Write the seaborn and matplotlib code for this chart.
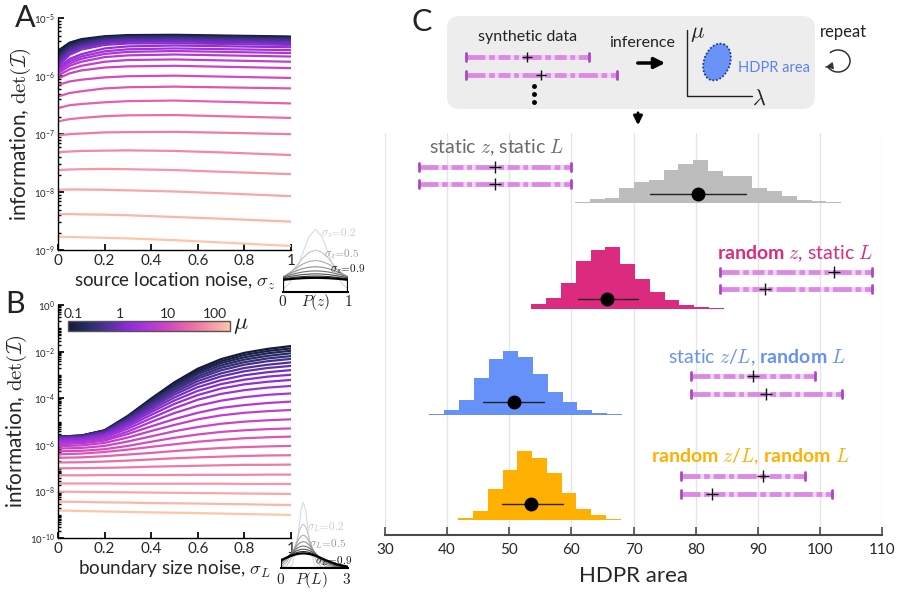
import numpy as np
import pandas as pd
import matplotlib
matplotlib.use("Agg")
import matplotlib.pyplot as plt
import matplotlib.ticker as mticker
import seaborn as sns
from matplotlib.colors import LinearSegmentedColormap, LogNorm
from matplotlib.patches import FancyBboxPatch, Ellipse, Arc

sns.set_theme(style="white")
plt.rcParams["font.family"] = ["Lato", "DejaVu Sans"]
plt.rcParams["mathtext.fontset"] = "cm"
# used only by texts with math_fontfamily="custom" (panel C labels)
plt.rcParams["mathtext.rm"] = "Lato"
plt.rcParams["mathtext.bf"] = "Lato:bold"
plt.rcParams["mathtext.it"] = "cmmi10"

# === DATA ===
mu = [0.1, 0.13, 0.17, 0.23, 0.3, 0.4, 0.52, 0.69, 0.91, 1.2, 1.6, 2.1, 2.8,
      3.6, 4.8, 6.3, 8.3, 11, 14.5, 19, 25, 33, 44, 58, 76, 100]

# panel A: log10 det(I) vs sigma_z, one row per mu
sig_z = [0, 0.05, 0.1, 0.2, 0.3, 0.5, 0.7, 1.0]
log_info_z = [
    [-5.56, -5.42, -5.36, -5.31, -5.29, -5.285, -5.297, -5.315],
    [-5.59, -5.44, -5.38, -5.32, -5.30, -5.295, -5.307, -5.325],
    [-5.62, -5.46, -5.39, -5.33, -5.31, -5.305, -5.317, -5.335],
    [-5.65, -5.48, -5.41, -5.34, -5.32, -5.315, -5.327, -5.345],
    [-5.68, -5.505, -5.43, -5.36, -5.335, -5.33, -5.342, -5.36],
    [-5.71, -5.53, -5.45, -5.37, -5.35, -5.345, -5.357, -5.375],
    [-5.74, -5.55, -5.47, -5.39, -5.365, -5.36, -5.372, -5.39],
    [-5.77, -5.575, -5.49, -5.41, -5.385, -5.38, -5.392, -5.41],
    [-5.80, -5.60, -5.51, -5.43, -5.405, -5.40, -5.412, -5.43],
    [-5.83, -5.63, -5.54, -5.46, -5.435, -5.43, -5.442, -5.46],
    [-5.86, -5.70, -5.62, -5.52, -5.485, -5.47, -5.482, -5.50],
    [-5.89, -5.74, -5.66, -5.57, -5.535, -5.52, -5.532, -5.55],
    [-5.92, -5.78, -5.70, -5.615, -5.58, -5.565, -5.579, -5.60],
    [-5.95, -5.82, -5.75, -5.67, -5.64, -5.625, -5.639, -5.66],
    [-5.99, -5.88, -5.82, -5.75, -5.72, -5.71, -5.726, -5.75],
    [-6.04, -5.95, -5.90, -5.85, -5.83, -5.82, -5.836, -5.86],
    [-6.15, -6.09, -6.06, -6.02, -6.00, -5.99, -6.006, -6.03],
    [-6.35, -6.29, -6.26, -6.21, -6.19, -6.18, -6.192, -6.21],
    [-6.55, -6.50, -6.48, -6.45, -6.43, -6.42, -6.44, -6.47],
    [-6.78, -6.74, -6.72, -6.69, -6.675, -6.67, -6.69, -6.72],
    [-7.02, -7.00, -6.99, -6.97, -6.965, -6.96, -6.975, -7.00],
    [-7.31, -7.30, -7.29, -7.285, -7.28, -7.29, -7.315, -7.36],
    [-7.62, -7.61, -7.605, -7.60, -7.605, -7.62, -7.65, -7.69],
    [-7.96, -7.955, -7.955, -7.96, -7.97, -7.99, -8.02, -8.07],
    [-8.38, -8.38, -8.385, -8.39, -8.40, -8.43, -8.46, -8.51],
    [-8.77, -8.775, -8.78, -8.79, -8.80, -8.83, -8.87, -8.93],
]

# panel B: log10 det(I) vs sigma_L
sig_L = [0, 0.1, 0.2, 0.3, 0.4, 0.5, 0.6, 0.7, 0.8, 0.9, 1.0]
log_info_L = [
    [-5.64, -5.60, -5.37, -4.75, -4.01, -3.31, -2.73, -2.32, -2.05, -1.88, -1.76],
    [-5.64, -5.60, -5.38, -4.77, -4.05, -3.37, -2.81, -2.41, -2.14, -1.97, -1.86],
    [-5.64, -5.60, -5.38, -4.79, -4.09, -3.43, -2.88, -2.49, -2.24, -2.07, -1.96],
    [-5.645, -5.61, -5.40, -4.82, -4.14, -3.50, -2.96, -2.59, -2.34, -2.18, -2.07],
    [-5.65, -5.62, -5.41, -4.85, -4.20, -3.57, -3.06, -2.69, -2.45, -2.29, -2.19],
    [-5.66, -5.63, -5.43, -4.89, -4.25, -3.65, -3.15, -2.80, -2.56, -2.41, -2.31],
    [-5.67, -5.64, -5.45, -4.93, -4.32, -3.74, -3.26, -2.93, -2.70, -2.56, -2.46],
    [-5.69, -5.66, -5.47, -4.98, -4.40, -3.84, -3.38, -3.06, -2.84, -2.70, -2.61],
    [-5.72, -5.69, -5.52, -5.05, -4.49, -3.96, -3.52, -3.22, -3.01, -2.88, -2.79],
    [-5.75, -5.72, -5.56, -5.12, -4.59, -4.09, -3.68, -3.39, -3.20, -3.07, -2.99],
    [-5.79, -5.76, -5.61, -5.20, -4.71, -4.24, -3.86, -3.58, -3.40, -3.29, -3.21],
    [-5.84, -5.82, -5.67, -5.30, -4.85, -4.42, -4.06, -3.81, -3.65, -3.54, -3.47],
    [-5.90, -5.88, -5.75, -5.42, -5.01, -4.63, -4.32, -4.10, -3.95, -3.85, -3.79],
    [-5.97, -5.93, -5.81, -5.53, -5.20, -4.89, -4.62, -4.41, -4.29, -4.20, -4.14],
    [-6.05, -6.02, -5.91, -5.68, -5.40, -5.14, -4.90, -4.73, -4.62, -4.55, -4.50],
    [-6.15, -6.13, -6.04, -5.85, -5.63, -5.41, -5.23, -5.09, -5.00, -4.94, -4.90],
    [-6.27, -6.25, -6.18, -6.04, -5.86, -5.69, -5.55, -5.44, -5.37, -5.32, -5.29],
    [-6.40, -6.37, -6.30, -6.20, -6.08, -5.97, -5.86, -5.78, -5.71, -5.67, -5.64],
    [-6.55, -6.53, -6.48, -6.41, -6.34, -6.26, -6.19, -6.13, -6.09, -6.06, -6.04],
    [-6.75, -6.74, -6.71, -6.67, -6.62, -6.57, -6.53, -6.50, -6.47, -6.45, -6.44],
    [-7.00, -6.99, -6.98, -6.96, -6.93, -6.91, -6.89, -6.87, -6.85, -6.85, -6.84],
    [-7.30, -7.30, -7.29, -7.29, -7.29, -7.285, -7.28, -7.28, -7.28, -7.27, -7.27],
    [-7.65, -7.65, -7.65, -7.66, -7.66, -7.66, -7.66, -7.66, -7.67, -7.67, -7.67],
    [-8.00, -8.01, -8.02, -8.03, -8.04, -8.05, -8.06, -8.07, -8.08, -8.09, -8.10],
    [-8.43, -8.44, -8.46, -8.47, -8.49, -8.50, -8.51, -8.53, -8.54, -8.56, -8.57],
    [-8.81, -8.83, -8.85, -8.87, -8.89, -8.905, -8.92, -8.94, -8.96, -8.98, -9.00],
]

# insets: noise distributions
inset_sig = [0.2, 0.3, 0.4, 0.5, 0.6, 0.7, 0.8, 0.9]
z_grid = [0, 0.1, 0.2, 0.3, 0.4, 0.5, 0.6, 0.7, 0.8, 0.9, 1.0]
p_z = [
    [0.088, 0.270, 0.648, 1.210, 1.761, 1.995, 1.761, 1.210, 0.648, 0.270, 0.088],
    [0.332, 0.547, 0.807, 1.065, 1.258, 1.330, 1.258, 1.065, 0.807, 0.547, 0.332],
    [0.456, 0.605, 0.753, 0.880, 0.966, 0.997, 0.966, 0.880, 0.753, 0.605, 0.456],
    [0.484, 0.579, 0.667, 0.737, 0.782, 0.798, 0.782, 0.737, 0.667, 0.579, 0.484],
    [0.470, 0.532, 0.587, 0.629, 0.656, 0.665, 0.656, 0.629, 0.587, 0.532, 0.470],
    [0.442, 0.484, 0.520, 0.547, 0.564, 0.570, 0.564, 0.547, 0.520, 0.484, 0.442],
    [0.410, 0.440, 0.465, 0.484, 0.495, 0.499, 0.495, 0.484, 0.465, 0.440, 0.410],
    [0.380, 0.401, 0.419, 0.432, 0.440, 0.443, 0.440, 0.432, 0.419, 0.401, 0.380],
]
L_grid = [0, 0.25, 0.5, 0.7, 0.8, 0.9, 1.0, 1.1, 1.2, 1.3, 1.5, 1.75, 2.0, 2.5, 3.0]
p_L = [
    [0.0, 0.002, 0.088, 0.648, 1.210, 1.761, 1.995, 1.761, 1.210, 0.648, 0.088, 0.002, 0.0, 0.0, 0.0],
    [0.005, 0.058, 0.332, 0.807, 1.065, 1.258, 1.330, 1.258, 1.065, 0.807, 0.332, 0.058, 0.005, 0.0, 0.0],
    [0.044, 0.172, 0.456, 0.753, 0.880, 0.966, 0.997, 0.966, 0.880, 0.753, 0.456, 0.172, 0.044, 0.001, 0.0],
    [0.108, 0.259, 0.484, 0.667, 0.737, 0.782, 0.798, 0.782, 0.737, 0.667, 0.484, 0.259, 0.108, 0.009, 0.0],
    [0.166, 0.304, 0.470, 0.587, 0.629, 0.656, 0.665, 0.656, 0.629, 0.587, 0.470, 0.304, 0.166, 0.029, 0.003],
    [0.205, 0.321, 0.442, 0.520, 0.547, 0.564, 0.570, 0.564, 0.547, 0.520, 0.442, 0.321, 0.205, 0.057, 0.010],
    [0.228, 0.322, 0.410, 0.465, 0.484, 0.495, 0.499, 0.495, 0.484, 0.465, 0.410, 0.322, 0.228, 0.086, 0.022],
    [0.239, 0.313, 0.380, 0.419, 0.432, 0.440, 0.443, 0.440, 0.432, 0.419, 0.380, 0.313, 0.239, 0.110, 0.038],
]
inset_grays = ["#dadada", "#c6c6c6", "#ababab", "#8f8f8f", "#717171", "#525252", "#2e2e2e", "#000000"]

# panel C: HDPR area histograms (percent of repeats per bin)
bin_w = 2.38
conditions = ["static z, static L", "random z, static L", "static z/L, random L", "random z/L, random L"]
hist_start = [58.2, 51.2, 32.4, 39.4]
hist_pct = [
    [0.1, 0.2, 1.3, 1.6, 4.7, 6.6, 7.3, 10.4, 12.3, 13.6, 10.1, 8.5, 8.5, 4.7, 3.8, 2.2, 1.1, 0.5, 0.3, 0.1],
    [0.1, 1.5, 3.4, 8.1, 15.3, 18.7, 19.5, 14.1, 9.5, 5.3, 2.8, 1.3, 0.5, 0.2],
    [0.1, 0.1, 0.3, 1.6, 4.7, 11.7, 17.7, 20.3, 18.4, 13.0, 7.3, 4.1, 1.6, 0.6, 0.2, 0.1],
    [0.1, 0.6, 2.8, 9.8, 15.8, 21.8, 19.6, 14.9, 8.5, 3.5, 1.6, 0.2, 0.1, 0.1],
]
hdpr_mean = [80.4, 65.8, 50.7, 53.5]
hdpr_lo = [72.7, 61.1, 45.8, 48.9]
hdpr_hi = [88.1, 70.8, 55.6, 58.6]
# synthetic data examples: (low, high, estimate) for two data sets
synth = [
    [(35.5, 59.9, 47.7), (35.5, 59.9, 47.7)],
    [(83.9, 108.4, 102.2), (83.9, 108.4, 91.2)],
    [(79.2, 99.2, 89.2), (79.2, 103.6, 91.4)],
    [(77.6, 97.6, 90.8), (77.6, 102.0, 82.7)],
]

# === STYLE / LAYOUT ===
W, H = 901, 597
cmap = LinearSegmentedColormap.from_list(
    "mu", ["#121a38", "#2b2d68", "#55309f", "#8d2dd8", "#b236d8", "#d247c0",
           "#ea68a8", "#f693a6", "#fec6a8"])
mu_norm = LogNorm(0.1, 100)
hist_colors = ["#bdbdbd", "#dc2a7e", "#6591f8", "#ffb000"]
label_colors = ["#6b6b6b", "#dc2a7e", "#6591f8", "#ffb000"]
labels_tex = [
    r"static $z$, static $L$",
    r"$\mathbf{random}$ $z$, static $L$",
    r"static $z/L$, $\mathbf{random}$ $L$",
    r"$\mathbf{random}$ $z/L$, $\mathbf{random}$ $L$",
]
row_base = [203, 309, 415, 520]          # px baseline of each histogram row
row_dot = [9, 10, 13, 16]                # px above baseline
row_label = [(497, 55), (795, 55), (757, 57), (750, 63)]
row_bars = [(36, 19), (37, 20), (39, 21), (44, 26)]
PPP = 3.16                               # px per percent

fig = plt.figure(figsize=(W / 100, H / 100), dpi=100)


def add_ax(x0, y0, x1, y1):
    return fig.add_axes([x0 / W, 1 - y1 / H, (x1 - x0) / W, (y1 - y0) / H])


def long_frame(xs, rows):
    recs = []
    for m, row in zip(mu, rows):
        for x, v in zip(xs, row):
            recs.append((x, 10.0 ** v, m))
    return pd.DataFrame(recs, columns=["sigma", "info", "mu"])


def style_info_axes(ax, xlabel):
    ax.set_yscale("log")
    ax.set_xlim(0, 1)
    sns.despine(ax=ax)
    for s in ["left", "bottom"]:
        ax.spines[s].set_color("black")
        ax.spines[s].set_linewidth(1.0)
    ax.set_xticks([0, 0.2, 0.4, 0.6, 0.8, 1])
    ax.set_xticklabels(["0", "0.2", "0.4", "0.6", "0.8", "1"])
    ax.tick_params(axis="x", which="both", direction="in", length=4, labelsize=11,
                   pad=3, color="black", bottom=True)
    ax.tick_params(axis="y", which="major", direction="in", length=4, labelsize=7,
                   pad=2, color="black", left=True)
    ax.tick_params(axis="y", which="minor", direction="in", length=2, color="black", left=True)
    ax.set_xlabel(xlabel, fontsize=13.5, labelpad=2)
    ax.set_ylabel(r"information, $\det(\mathcal{I})$", fontsize=15, labelpad=1)


# === A ===
axA = add_ax(58, 18.3, 291, 250)
sns.lineplot(data=long_frame(sig_z, log_info_z), x="sigma", y="info", hue="mu",
             palette=cmap, hue_norm=mu_norm, legend=False, lw=1.6, ax=axA)
style_info_axes(axA, r"source location noise, $\sigma_z$")
axA.set_ylim(1e-9, 1e-5)
axA.yaxis.set_major_locator(mticker.LogLocator(base=10, numticks=10))
axA.yaxis.set_minor_locator(mticker.LogLocator(base=10, subs=np.arange(2, 10), numticks=20))
axA.yaxis.set_minor_formatter(mticker.NullFormatter())

# === B ===
axB = add_ax(58, 305, 291, 538.3)
sns.lineplot(data=long_frame(sig_L, log_info_L), x="sigma", y="info", hue="mu",
             palette=cmap, hue_norm=mu_norm, legend=False, lw=1.6, ax=axB)
style_info_axes(axB, r"boundary size noise, $\sigma_L$")
axB.set_ylim(1e-10, 1e0)
axB.yaxis.set_major_locator(mticker.FixedLocator([10.0 ** k for k in range(-10, 1, 2)]))
axB.yaxis.set_minor_locator(mticker.LogLocator(base=10, subs=np.arange(1, 10), numticks=30))
axB.yaxis.set_minor_formatter(mticker.NullFormatter())

# colorbar for mu (bar runs a little past 0.1 and 100, as in the original)
cax = add_ax(68, 321, 230, 331)
sm = plt.cm.ScalarMappable(norm=LogNorm(0.078, 207), cmap=cmap)
cb = fig.colorbar(sm, cax=cax, orientation="horizontal")
cax.xaxis.set_ticks_position("top")
cb.set_ticks([0.1, 1, 10, 100])
cb.set_ticklabels(["0.1", "1", "10", "100"])
cax.tick_params(which="both", direction="in", labelsize=10, pad=1, length=2, color="#555")
cb.outline.set_edgecolor("#555")
cb.outline.set_linewidth(1.0)

# insets
axPz = add_ax(283, 226, 348, 291.7)
axPL = add_ax(281, 498.7, 348, 568)
for ax, grid, curves, xmax in [(axPz, z_grid, p_z, 1.0), (axPL, L_grid, p_L, 3.0)]:
    for s, vals, c in zip(inset_sig, curves, inset_grays):
        ax.plot([grid[0]] + grid + [grid[-1]], [0] + vals + [0], color=c,
                lw=1.6 if s == 0.9 else 0.8)
    ax.set_xlim(0, xmax)
    ax.set_ylim(0, 2.1)
    ax.set_xticks([])
    ax.set_yticks([])
    for s in ["top", "right", "left"]:
        ax.spines[s].set_visible(False)
    ax.spines["bottom"].set_color("black")
    ax.spines["bottom"].set_linewidth(1.5)
    ax.patch.set_alpha(0)

# === C ===
axC = add_ax(385, 133, 882, 535)
axC.set_xlim(30, 110)
axC.set_ylim(0, 1)
axC.set_xticks(range(30, 111, 10))
axC.set_yticks([])
axC.grid(axis="x", color="#e6e6e6", lw=1)
for s in ["top", "right", "left"]:
    axC.spines[s].set_visible(False)
axC.spines["bottom"].set_color("#4a4a4a")
axC.spines["bottom"].set_linewidth(1.5)
axC.tick_params(axis="x", direction="in", length=6, width=1.2, color="#4a4a4a",
                labelsize=11, pad=6, bottom=True)
axC.set_xlabel("HDPR area", fontsize=16, labelpad=6)


def synth_bar(ax, lo, hi, est, y, cap, mark_size=8):
    ax.plot([lo, hi], [y, y], color="#f0d2f3", lw=3.4, solid_capstyle="butt", zorder=3)
    ax.plot([lo, hi], [y, y], color="#db88e6", lw=3.4,
            ls=(0, (4, 0.8, 1.2, 0.8, 2.5, 0.8, 1.0, 0.8)),
            dash_capstyle="butt", zorder=3)
    for xe in (lo, hi):
        ax.plot([xe, xe], [y - cap, y + cap], color="#ad47c2", lw=2, zorder=4)
    ax.plot(est, y, marker="+", color="#111", ms=mark_size, mew=1, zorder=5)


for i in range(4):
    base = row_base[i]
    ax = add_ax(385, base - 80, 882, base)
    n = len(hist_pct[i])
    centers = [hist_start[i] + bin_w * (k + 0.5) for k in range(n)]
    sns.histplot(x=centers, weights=hist_pct[i], binwidth=bin_w,
                 binrange=(hist_start[i], hist_start[i] + bin_w * n),
                 element="step", fill=True, color=hist_colors[i], alpha=1,
                 linewidth=0, ax=ax)
    ax.set_xlim(30, 110)
    ax.set_ylim(0, 80 / PPP)
    ax.axis("off")
    yd = row_dot[i] / PPP
    ax.plot([hdpr_lo[i], hdpr_hi[i]], [yd, yd], color="#222", lw=1, zorder=6)
    ax.plot(hdpr_mean[i], yd, "o", color="black", ms=9, zorder=7)
    lx, ly = row_label[i]
    ax.text(30 + (lx - 385) / 6.2125, ly / PPP, labels_tex[i], ha="center", va="center",
            fontsize=14, color=label_colors[i], math_fontfamily="custom")
    for (lo, hi, est), yb in zip(synth[i], row_bars[i]):
        synth_bar(ax, lo, hi, est, yb / PPP, 4 / PPP)

# === overlay: schematic, panel letters, inset labels ===
ov = fig.add_axes([0, 0, 1, 1])
ov.set_xlim(0, W)
ov.set_ylim(H, 0)
ov.axis("off")

ov.add_patch(FancyBboxPatch((447, 16), 368, 93, boxstyle="round,pad=0,rounding_size=13",
                            fc="#ededed", ec="none"))
ov.text(528, 37, "synthetic data", ha="center", va="center", fontsize=11.5, color="#222")
synth_bar(ov, 466, 589, 527, 57, 4, mark_size=7)
synth_bar(ov, 466, 617, 541, 75, 4, mark_size=7)
ov.plot([534, 534, 534], [86, 94, 102], "o", color="black", ms=2.5)
ov.text(642, 43, "inference", ha="center", va="center", fontsize=11.5, color="#222")
ov.annotate("", xy=(668, 63), xytext=(635, 63),
            arrowprops=dict(arrowstyle="-|>", lw=2.5, color="black", mutation_scale=16))
ov.plot([687, 687, 752], [30, 96, 96], color="#222", lw=1)
ov.text(697, 34, r"$\mu$", ha="center", va="center", fontsize=16, color="#222")
ov.text(759, 99, r"$\lambda$", ha="center", va="center", fontsize=16, color="#222")
ov.add_patch(Ellipse((717, 62), 26, 38, angle=20, fc="#6a93f7", ec="#1f3a94",
                     ls=(0, (1, 1)), lw=1.3))
ov.text(774, 68, "HDPR area", ha="center", va="center", fontsize=10.5, color="#5b83f0")
ov.text(843, 32, "repeat", ha="center", va="center", fontsize=12, color="#222")
# circular "repeat" arrow
ov.add_patch(Arc((838, 61), 24, 22, theta1=-135, theta2=152, color="#333", lw=1.1))
ov.annotate("", xy=(823, 67.5), xytext=(828.5, 66.5),
            arrowprops=dict(arrowstyle="-|>", lw=1, color="#333", mutation_scale=10))
ov.annotate("", xy=(638, 128), xytext=(638, 110),
            arrowprops=dict(arrowstyle="-|>", lw=2, color="black", mutation_scale=13))

ov.text(25, 18, "A", ha="center", va="center", fontsize=22, color="#222")
ov.text(15, 304, "B", ha="center", va="center", fontsize=22, color="#222")
ov.text(422, 22, "C", ha="center", va="center", fontsize=22, color="#222")
ov.text(241, 325, r"$\mu$", ha="center", va="center", fontsize=17, color="#222")

ov.text(321, 233, r"$\sigma_z\!=\!0.2$", ha="left", va="center", fontsize=8, color="#c8c8c8")
ov.text(324, 254, r"$\sigma_z\!=\!0.5$", ha="left", va="center", fontsize=8, color="#9a9a9a")
ov.text(330, 269, r"$\sigma_z\!=\!0.9$", ha="left", va="center", fontsize=8, color="#111")
ov.text(283, 302, r"$0$", ha="center", va="center", fontsize=11, color="#222")
ov.text(316, 302, r"$P(z)$", ha="center", va="center", fontsize=11, color="#222")
ov.text(348, 302, r"$1$", ha="center", va="center", fontsize=11, color="#222")

ov.text(307, 527, r"$\sigma_L\!=\!0.2$", ha="left", va="center", fontsize=8, color="#c8c8c8")
ov.text(309, 544, r"$\sigma_L\!=\!0.5$", ha="left", va="center", fontsize=8, color="#9a9a9a")
ov.text(315, 561, r"$\sigma_L\!=\!0.9$", ha="left", va="center", fontsize=8, color="#111")
ov.text(281, 580, r"$0$", ha="center", va="center", fontsize=11, color="#222")
ov.text(311, 580, r"$P(L)$", ha="center", va="center", fontsize=11, color="#222")
ov.text(347, 580, r"$3$", ha="center", va="center", fontsize=11, color="#222")

fig.savefig("out.png", dpi=100)
